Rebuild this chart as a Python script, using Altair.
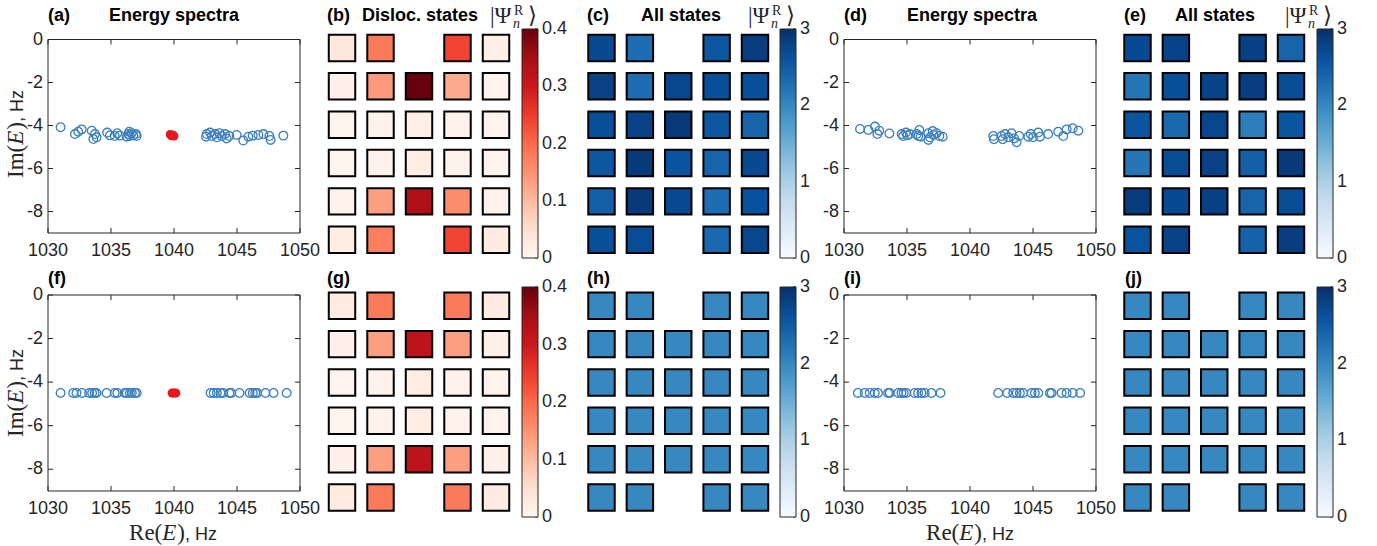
import altair as alt
import pandas as pd

W, H = 1377, 546
SANS = "Liberation Sans"
SERIF = "Liberation Serif"
INK = "#262626"
BLUE = "#3a7fc0"
RED = "#e41a1c"

# ---------------- data ----------------
XLIM = [1030, 1050]
YLIM = [-9, 0]
XTICKS = [1030, 1035, 1040, 1045, 1050]
YTICKS = [0, -2, -4, -6, -8]

# (a) energy spectrum with dislocation
A_RE = [1031.0, 1032.14, 1032.4, 1032.67, 1033.47, 1033.73, 1033.6, 1033.86, 1034.7, 1034.92,
        1035.3, 1035.5, 1035.7, 1036.25, 1036.4, 1036.45, 1036.5, 1036.64, 1036.77, 1036.98, 1037.04,
        1042.54, 1042.6, 1042.86, 1043.0, 1043.25, 1043.4, 1043.6, 1043.8, 1044.05, 1044.18, 1044.39,
        1044.97, 1045.5, 1045.9, 1046.25, 1046.7, 1047.1, 1047.57, 1047.67, 1048.68]
A_IM = [-4.08, -4.40, -4.29, -4.18, -4.24, -4.40, -4.63, -4.55, -4.33, -4.46,
        -4.49, -4.36, -4.47, -4.52, -4.40, -4.29, -4.49, -4.36, -4.46, -4.40, -4.49,
        -4.52, -4.40, -4.33, -4.49, -4.40, -4.55, -4.36, -4.49, -4.40, -4.60, -4.49,
        -4.44, -4.70, -4.52, -4.47, -4.44, -4.40, -4.49, -4.67, -4.47]
A_RED_RE = [1039.7, 1039.8, 1039.9, 1040.0]
A_RED_IM = [-4.42, -4.48, -4.44, -4.49]

# (d) energy spectrum, no dislocation
D_RE = [1031.27, 1031.93, 1032.46, 1032.8, 1032.65, 1033.6, 1034.58, 1034.7, 1034.92, 1035.03,
        1035.24, 1035.77, 1035.9, 1035.98, 1036.08, 1036.69, 1036.7, 1036.83, 1037.04, 1037.09,
        1037.35, 1037.57, 1037.83,
        1041.85, 1041.9, 1042.5, 1042.6, 1042.78, 1043.04, 1043.3, 1043.5, 1043.7, 1043.9,
        1044.63, 1044.82, 1045.0, 1045.42, 1045.55, 1046.2, 1047.0, 1047.4, 1047.67, 1048.15, 1048.6]
D_IM = [-4.16, -4.21, -4.05, -4.24, -4.40, -4.37, -4.40, -4.49, -4.33, -4.46,
        -4.40, -4.40, -4.49, -4.21, -4.52, -4.36, -4.67, -4.55, -4.26, -4.44,
        -4.36, -4.49, -4.52,
        -4.49, -4.64, -4.49, -4.64, -4.40, -4.55, -4.36, -4.60, -4.78, -4.49,
        -4.52, -4.40, -4.55, -4.33, -4.52, -4.40, -4.29, -4.49, -4.18, -4.13, -4.24]

# (f) clean spectrum with dislocation
F_RE = [1031.0, 1032.0, 1032.26, 1032.7, 1033.27, 1033.5, 1033.7, 1033.85, 1034.65, 1035.3,
        1035.5, 1036.1, 1036.25, 1036.5, 1036.65, 1036.9, 1037.04,
        1042.9, 1043.15, 1043.4, 1043.7, 1043.9, 1044.4, 1044.55, 1045.2, 1046.0, 1046.25,
        1046.45, 1046.6, 1047.26, 1047.9, 1048.94]
F_IM = [-4.5] * 32
F_RED_RE = [1039.85, 1040.0, 1040.15]
F_RED_IM = [-4.5, -4.5, -4.5]

# (i) clean spectrum, no dislocation
I_RE = [1031.1, 1031.64, 1032.04, 1032.44, 1032.7, 1033.5, 1033.63, 1034.3, 1034.56, 1034.74,
        1034.95, 1035.6, 1035.88, 1036.15, 1036.4, 1036.94, 1037.66,
        1042.24, 1042.95, 1043.43, 1043.7, 1043.96, 1044.22, 1044.89, 1045.15, 1045.42,
        1046.34, 1046.48, 1047.27, 1047.67, 1048.15, 1048.74]
I_IM = [-4.5] * 32

# lattice amplitudes |Psi_n^R>, rows top->bottom, columns left->right (None = no site)
B_VALS = [
    [0.030, 0.180, None, 0.240, 0.015],
    [0.010, 0.140, 0.400, 0.120, 0.005],
    [0.005, 0.008, 0.015, 0.008, 0.005],
    [0.005, 0.008, 0.020, 0.008, 0.005],
    [0.006, 0.135, 0.340, 0.155, 0.006],
    [0.020, 0.175, None, 0.240, 0.025],
]
C_VALS = [
    [2.70, 2.30, None, 2.55, 2.85],
    [2.80, 2.30, 2.75, 2.65, 2.65],
    [2.65, 2.78, 2.90, 2.55, 2.40],
    [2.55, 2.90, 2.60, 2.40, 2.70],
    [2.45, 2.90, 2.70, 2.30, 2.62],
    [2.65, 2.68, None, 2.35, 2.75],
]
E_VALS = [
    [2.70, 2.78, None, 2.82, 2.40],
    [2.20, 2.65, 2.78, 2.85, 2.68],
    [2.58, 2.35, 2.75, 2.10, 2.58],
    [2.20, 2.68, 2.80, 2.45, 2.90],
    [2.88, 2.70, 2.82, 2.40, 2.68],
    [2.60, 2.78, None, 2.42, 2.85],
]
G_VALS = [
    [0.025, 0.180, None, 0.180, 0.025],
    [0.010, 0.135, 0.320, 0.135, 0.010],
    [0.005, 0.008, 0.020, 0.008, 0.005],
    [0.005, 0.008, 0.020, 0.008, 0.005],
    [0.010, 0.135, 0.320, 0.135, 0.010],
    [0.025, 0.180, None, 0.180, 0.025],
]
H_VALS = [
    [2.0, 2.0, None, 2.0, 2.0],
    [2.0, 2.0, 2.0, 2.0, 2.0],
    [2.0, 2.0, 2.0, 2.0, 2.0],
    [2.0, 2.0, 2.0, 2.0, 2.0],
    [2.0, 2.0, 2.0, 2.0, 2.0],
    [2.0, 2.0, None, 2.0, 2.0],
]
J_VALS = [
    [2.0, 2.0, None, 2.0, 2.0],
    [2.0, 2.0, 2.0, 2.0, 2.0],
    [2.0, 2.0, 2.0, 2.0, 2.0],
    [2.0, 2.0, 2.0, 2.0, 2.0],
    [2.0, 2.0, 2.0, 2.0, 2.0],
    [2.0, 2.0, None, 2.0, 2.0],
]

REDS = ["#fff5f0", "#fee0d2", "#fcbba1", "#fc9272", "#fb6a4a", "#ef3b2c", "#cb181d", "#a50f15", "#67000d"]
RED_STOPS = [0, 0.05, 0.1, 0.15, 0.2, 0.25, 0.3, 0.35, 0.4]
BLUES = ["#f7fbff", "#deebf7", "#c6dbef", "#9ecae1", "#6baed6", "#4292c6", "#2171b5", "#08519c", "#08306b"]
BLUE_STOPS = [0, 0.375, 0.75, 1.125, 1.5, 1.875, 2.25, 2.625, 3]
RED_TICKS = [0, 0.1, 0.2, 0.3, 0.4]
RED_TICK_LABELS = ["0", "0.1", "0.2", "0.3", "0.4"]
BLUE_TICKS = [0, 1, 2, 3]
BLUE_TICK_LABELS = ["0", "1", "2", "3"]

# ---------------- layout (pixels) ----------------
TOP_Y = (233, 39.5)
BOT_Y = (491, 295)
LEFT_X = (48, 300)
RIGHT_X = (844, 1096)
GX_B = (342, 496)
GX_C = (601.5, 755)
GX_E = (1137.5, 1291)
GY_TOP = (48, 239.7)
GY_BOT = (305.8, 497.5)
CB_X = [522, 780, 1317]
CB_W = 16
CB_TOP = (29, 229)
CB_BOT = (287, 230)


def scatter_panel(re, im, red_re, red_im, xr, yr):
    xs = alt.Scale(domain=XLIM, range=list(xr), nice=False, zero=False)
    ys = alt.Scale(domain=YLIM, range=list(yr), nice=False, zero=False)
    box = alt.Chart(pd.DataFrame({"x0": [XLIM[0]], "x1": [XLIM[1]], "y0": [YLIM[0]], "y1": [YLIM[1]]})).mark_rect(
        fillOpacity=0, stroke=INK, strokeWidth=1
    ).encode(x=alt.X("x0:Q", scale=xs, axis=None), x2=alt.X2("x1"),
             y=alt.Y("y0:Q", scale=ys, axis=None), y2=alt.Y2("y1"))
    ytdf = pd.DataFrame({"xl": [XLIM[0]] * len(YTICKS), "xr": [XLIM[1]] * len(YTICKS), "t": YTICKS,
                         "lab": [str(v) for v in YTICKS]})
    xtdf = pd.DataFrame({"yb": [YLIM[0]] * len(XTICKS), "yt": [YLIM[1]] * len(XTICKS), "t": XTICKS,
                         "lab": [str(v) for v in XTICKS]})
    lt = alt.Chart(ytdf).mark_rule(color=INK, strokeWidth=1, x2Offset=5).encode(
        x=alt.X("xl:Q", scale=xs, axis=None), x2=alt.X2("xl"), y=alt.Y("t:Q", scale=ys, axis=None))
    rt = alt.Chart(ytdf).mark_rule(color=INK, strokeWidth=1, x2Offset=-5).encode(
        x=alt.X("xr:Q", scale=xs, axis=None), x2=alt.X2("xr"), y=alt.Y("t:Q", scale=ys, axis=None))
    bt = alt.Chart(xtdf).mark_rule(color=INK, strokeWidth=1, y2Offset=-5).encode(
        x=alt.X("t:Q", scale=xs, axis=None), y=alt.Y("yb:Q", scale=ys, axis=None), y2=alt.Y2("yb"))
    tt = alt.Chart(xtdf).mark_rule(color=INK, strokeWidth=1, y2Offset=5).encode(
        x=alt.X("t:Q", scale=xs, axis=None), y=alt.Y("yt:Q", scale=ys, axis=None), y2=alt.Y2("yt"))
    ylab = alt.Chart(ytdf).mark_text(font=SANS, fontSize=18, color=INK, align="right", baseline="middle", dx=-5).encode(
        x=alt.X("xl:Q", scale=xs, axis=None), y=alt.Y("t:Q", scale=ys, axis=None), text="lab:N")
    xlab = alt.Chart(xtdf).mark_text(font=SANS, fontSize=18, color=INK, align="center", baseline="alphabetic", dy=23).encode(
        x=alt.X("t:Q", scale=xs, axis=None), y=alt.Y("yb:Q", scale=ys, axis=None), text="lab:N")
    pts = alt.Chart(pd.DataFrame({"re": re, "im": im})).mark_point(
        shape="circle", filled=False, size=75, strokeWidth=1.3, color=BLUE, opacity=1
    ).encode(x=alt.X("re:Q", scale=xs, axis=None), y=alt.Y("im:Q", scale=ys, axis=None))
    layers = [box, lt, rt, bt, tt, ylab, xlab, pts]
    if red_re:
        red = alt.Chart(pd.DataFrame({"re": red_re, "im": red_im})).mark_circle(
            size=80, color=RED, opacity=1
        ).encode(x=alt.X("re:Q", scale=xs, axis=None), y=alt.Y("im:Q", scale=ys, axis=None))
        layers.append(red)
    return alt.layer(*layers)


def grid_panel(vals, xr, yr, stops, colors, lx, cb):
    rows, cols, vs = [], [], []
    for r, rowvals in enumerate(vals, start=1):
        for c, v in enumerate(rowvals, start=1):
            if v is not None:
                rows.append(r)
                cols.append(c)
                vs.append(v)
    df = pd.DataFrame({"row": rows, "col": cols, "val": vs})
    legend = alt.Legend(orient="none", legendX=lx, legendY=cb[0], direction="vertical",
                        gradientLength=cb[1], gradientThickness=CB_W, title=None,
                        labelExpr="''", labelOpacity=0, labelFontSize=1,
                        padding=0, gradientStrokeColor=INK, gradientStrokeWidth=1)
    return alt.Chart(df).mark_square(size=700, stroke="black", strokeWidth=2, opacity=1).encode(
        x=alt.X("col:Q", scale=alt.Scale(domain=[1, 5], range=list(xr), nice=False, zero=False), axis=None),
        y=alt.Y("row:Q", scale=alt.Scale(domain=[1, 6], range=list(yr), nice=False, zero=False), axis=None),
        color=alt.Color("val:Q", scale=alt.Scale(domain=stops, range=colors, interpolate="rgb"), legend=legend),
    )


def colorbar_axis(L, cb, ticks, labels, stops):
    ys = alt.Scale(domain=[stops[0], stops[-1]], range=[cb[0] + cb[1], cb[0]], nice=False, zero=False)
    df = pd.DataFrame({"v": ticks, "lab": labels})
    lab = alt.Chart(df).mark_text(font=SANS, fontSize=18, color=INK, align="left", baseline="middle").encode(
        x=alt.value(L + CB_W + 4), y=alt.Y("v:Q", scale=ys, axis=None), text="lab:N")
    tk = alt.Chart(df).mark_rule(color=INK, strokeWidth=1).encode(
        x=alt.value(L + CB_W), x2=alt.value(L + CB_W - 3), y=alt.Y("v:Q", scale=ys, axis=None))
    return alt.layer(tk, lab)


def txt(s, x, y, size=18, font=SANS, weight="normal", style="normal", align="left",
        baseline="alphabetic", angle=0, color="#000000"):
    return alt.Chart(pd.DataFrame({"t": [s]})).mark_text(
        font=font, fontSize=size, fontWeight=weight, fontStyle=style, align=align,
        baseline=baseline, angle=angle, color=color
    ).encode(text="t:N", x=alt.value(x), y=alt.value(y))


SERIF_W = {"I": 0.333, "m": 0.778, "(": 0.333, ")": 0.333, "R": 0.667, "e": 0.444}
ITAL_W = {"E": 0.611}
SANS_W = {",": 0.278, " ": 0.278, "H": 0.722, "z": 0.5}


def piece_width(s, font, style, size):
    table = SANS_W if font == SANS else (ITAL_W if style == "italic" else SERIF_W)
    return sum(table.get(ch, 0.5) for ch in s) * size + (1 if style == "italic" else 0)


def math_label(head, center, base, vertical):
    pieces = [(head + "(", SERIF, "normal", 23), ("E", SERIF, "italic", 23),
              (")", SERIF, "normal", 23), (", Hz", SANS, "normal", 18)]
    widths = [piece_width(p[0], p[1], p[2], p[3]) for p in pieces]
    total = sum(widths)
    out = []
    cum = 0
    for (s, f, st, sz), w in zip(pieces, widths):
        if vertical:
            out.append(txt(s, base, center + total / 2 - cum, size=sz, font=f, style=st, angle=270, color=INK))
        else:
            out.append(txt(s, center - total / 2 + cum, base, size=sz, font=f, style=st, color=INK))
        cum += w
    return out


def psi_label(L):
    return [
        txt("|\u03a8", L - 32, 23, size=23, font=SERIF, color=INK),
        txt("R", L - 8, 15, size=14, font=SERIF, color=INK),
        txt("n", L - 9, 28, size=14, font=SERIF, style="italic", color=INK),
        txt("\u27e9", L + 6, 23, size=23, font="Liberation Serif, DejaVu Serif, DejaVu Sans", color=INK),
    ]


layers = [
    scatter_panel(A_RE, A_IM, A_RED_RE, A_RED_IM, LEFT_X, TOP_Y),
    scatter_panel(D_RE, D_IM, [], [], RIGHT_X, TOP_Y),
    scatter_panel(F_RE, F_IM, F_RED_RE, F_RED_IM, LEFT_X, BOT_Y),
    scatter_panel(I_RE, I_IM, [], [], RIGHT_X, BOT_Y),
]

layers += [
    grid_panel(B_VALS, GX_B, GY_TOP, RED_STOPS, REDS, CB_X[0], CB_TOP),
    grid_panel(C_VALS, GX_C, GY_TOP, BLUE_STOPS, BLUES, CB_X[1], CB_TOP),
    grid_panel(E_VALS, GX_E, GY_TOP, BLUE_STOPS, BLUES, CB_X[2], CB_TOP),
    grid_panel(G_VALS, GX_B, GY_BOT, RED_STOPS, REDS, CB_X[0], CB_BOT),
    grid_panel(H_VALS, GX_C, GY_BOT, BLUE_STOPS, BLUES, CB_X[1], CB_BOT),
    grid_panel(J_VALS, GX_E, GY_BOT, BLUE_STOPS, BLUES, CB_X[2], CB_BOT),
    colorbar_axis(CB_X[0], CB_TOP, RED_TICKS, RED_TICK_LABELS, RED_STOPS),
    colorbar_axis(CB_X[1], CB_TOP, BLUE_TICKS, BLUE_TICK_LABELS, BLUE_STOPS),
    colorbar_axis(CB_X[2], CB_TOP, BLUE_TICKS, BLUE_TICK_LABELS, BLUE_STOPS),
    colorbar_axis(CB_X[0], CB_BOT, RED_TICKS, RED_TICK_LABELS, RED_STOPS),
    colorbar_axis(CB_X[1], CB_BOT, BLUE_TICKS, BLUE_TICK_LABELS, BLUE_STOPS),
    colorbar_axis(CB_X[2], CB_BOT, BLUE_TICKS, BLUE_TICK_LABELS, BLUE_STOPS),
]

# panel labels and titles
for lab, x in [("(a)", 48), ("(b)", 327), ("(c)", 587), ("(d)", 844), ("(e)", 1124)]:
    layers.append(txt(lab, x, 21, weight="bold"))
for lab, x in [("Energy spectra", 174), ("Disloc. states", 420), ("All states", 681),
               ("Energy spectra", 972), ("All states", 1215)]:
    layers.append(txt(lab, x, 21, weight="bold", align="center"))
for lab, x in [("(f)", 48), ("(g)", 327), ("(h)", 587), ("(i)", 844), ("(j)", 1125)]:
    layers.append(txt(lab, x, 284, weight="bold"))
for L in CB_X:
    layers += psi_label(L)

layers += math_label("Im", 134, 23, True)
layers += math_label("Im", 393, 23, True)
layers += math_label("Re", 173, 540, False)
layers += math_label("Re", 970, 540, False)

chart = alt.layer(*layers).resolve_scale(
    x="independent", y="independent", color="independent"
).properties(width=W, height=H, autosize=alt.AutoSizeParams(type="none"), padding=0).configure_view(strokeWidth=0)

chart.save("out.html", embed_options={"renderer": "svg", "actions": False})
